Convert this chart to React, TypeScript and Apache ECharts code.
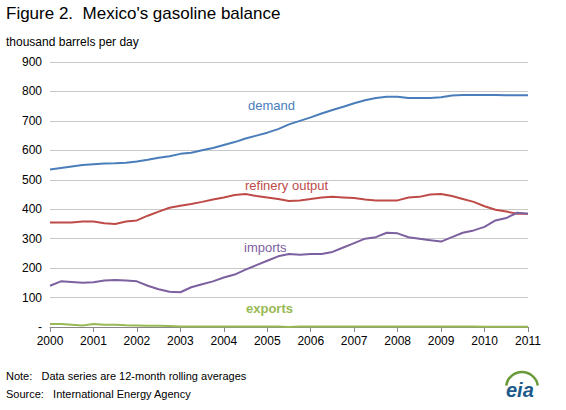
import React, { useEffect, useRef } from "react";
import * as echarts from "echarts";

const quarters: number[] = [];
for (let i = 0; i <= 44; i++) quarters.push(2000 + i * 0.25);
const demand = [535,540,545,550,553,555,556,558,562,568,575,580,588,592,600,608,618,628,640,650,660,672,688,700,712,725,737,748,760,770,778,782,782,778,778,778,780,786,788,788,788,788,787,787,787];
const refinery = [355,355,355,358,358,352,350,358,362,378,392,405,412,418,425,433,440,448,452,445,440,435,428,430,435,440,442,440,438,433,430,430,430,440,442,450,452,445,435,425,410,398,392,385,385];
const imports = [140,155,153,150,152,158,160,158,155,140,128,120,118,135,145,155,168,178,195,210,225,240,248,245,248,248,255,270,285,300,305,320,318,305,300,295,290,305,320,328,340,362,370,388,385];
const exportsV = [10,10,8,5,10,8,8,6,5,4,4,3,2,2,2,2,2,2,2,2,2,2,0,2,2,2,2,2,2,2,2,2,2,2,2,2,2,2,2,2,1,1,1,1,1];

const mk = (name: string, vals: number[], color: string) => ({
  name, type: "line", data: vals.map((v, i) => [quarters[i], v]), showSymbol: false,
  lineStyle: { color, width: 2 }, itemStyle: { color },
});

export default function App() {
  const ref = useRef<HTMLDivElement>(null);
  useEffect(() => {
    const c = echarts.init(ref.current!, null, { renderer: "svg" });
    const f = "Arial, 'Liberation Sans', sans-serif";
    c.setOption({
      animation: false,
      textStyle: { fontFamily: f },
      grid: { left: 50, right: 38, top: 62, bottom: 83 },
      xAxis: {
        type: "value", min: 2000, max: 2011, interval: 1,
        axisLabel: { color: "#000", fontSize: 12, formatter: (v: number) => String(v) },
        axisLine: { lineStyle: { color: "#888" } },
        axisTick: { show: true, lineStyle: { color: "#888" } },
        splitLine: { show: false },
      },
      yAxis: {
        type: "value", min: 0, max: 900, interval: 100,
        axisLabel: { color: "#000", fontSize: 12, formatter: (v: number) => (v === 0 ? "-" : String(v)) },
        axisLine: { show: false }, axisTick: { show: false },
        splitLine: { lineStyle: { color: "#c8c8c8" } },
      },
      series: [
        mk("demand", demand, "#4a7ebb"),
        mk("refinery output", refinery, "#be4b48"),
        mk("imports", imports, "#7d60a0"),
        mk("exports", exportsV, "#98b954"),
      ],
      graphic: [
        { type: "text", left: 6, top: 5, style: { text: "Figure 2.  Mexico's gasoline balance", font: `17px ${f}`, fill: "#000" } },
        { type: "text", left: 6, top: 36, style: { text: "thousand barrels per day", font: `12px ${f}`, fill: "#000" } },
        { type: "text", left: 248, top: 99, style: { text: "demand", font: `13px ${f}`, fill: "#4a7ebb" } },
        { type: "text", left: 245, top: 179, style: { text: "refinery output", font: `13px ${f}`, fill: "#be4b48" } },
        { type: "text", left: 244, top: 241, style: { text: "imports", font: `13px ${f}`, fill: "#7d60a0" } },
        { type: "text", left: 246, top: 302, style: { text: "exports", font: `bold 13px ${f}`, fill: "#98b954" } },
        { type: "text", left: 6, top: 370, style: { text: "Note:   Data series are 12-month rolling averages", font: `11px ${f}`, fill: "#000" } },
        { type: "text", left: 6, top: 388, style: { text: "Source:   International Energy Agency", font: `11px ${f}`, fill: "#000" } },
        { type: "arc", shape: { cx: 522, cy: 388, r: 16, startAngle: Math.PI * 1.05, endAngle: Math.PI * 1.95 }, style: { stroke: "#6a9a3a", lineWidth: 2.5, fill: "none" } },
        { type: "text", left: 506, top: 380, style: { text: "eia", font: `bold italic 20px ${f}`, fill: "#1d5a8a" } },
      ],
    });
    return () => c.dispose();
  }, []);
  return <div ref={ref} style={{ width: 566, height: 410, position: "absolute", left: 0, top: 0, background: "#fff" }} />;
}
